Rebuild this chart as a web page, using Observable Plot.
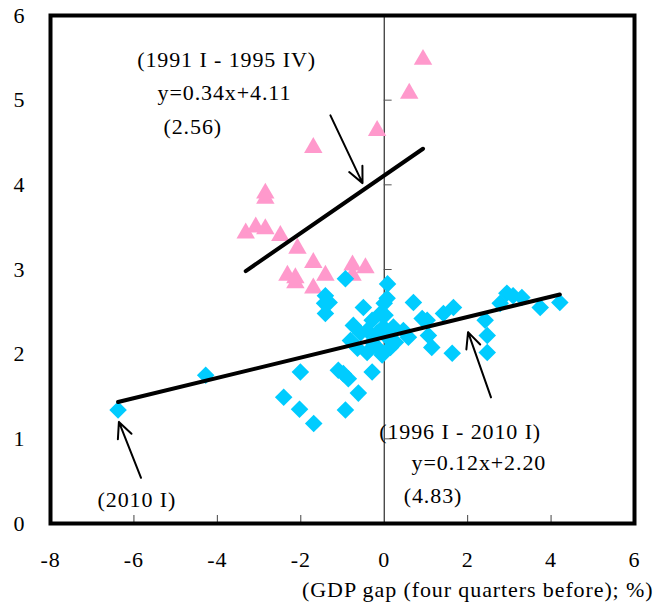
<!DOCTYPE html>
<html>
<head>
<meta charset="utf-8">
<script src="https://cdn.jsdelivr.net/npm/d3@7"></script>
<script src="https://cdn.jsdelivr.net/npm/@observablehq/plot@0.6"></script>
<style>
  html, body { margin: 0; padding: 0; background: #fff; }
  #chart { width: 668px; height: 604px; }
  #chart svg text { letter-spacing: 0.9px; }
</style>
</head>
<body>
<div id="chart"></div>
<script>
// 1991 I - 1995 IV (pink triangles): GDP gap (four quarters before), y value
const earlyX = [0.93, 0.60, -0.17, -1.70, -2.85, -2.85, -3.32, -3.08, -2.85, -2.49, -2.08, -1.70, -2.32, -2.13, -2.13, -1.70, -1.41, -0.76, -0.45, -0.76];
const earlyY = [5.48, 5.08, 4.64, 4.44, 3.90, 3.84, 3.43, 3.50, 3.48, 3.40, 3.25, 3.08, 2.93, 2.90, 2.84, 2.78, 2.93, 3.05, 3.02, 2.93];

// 1996 I - 2010 I (cyan diamonds)
const lateX = [-6.38, -4.28, -2.41, -2.01, -2.03, -1.69, -1.10, -0.98, -0.86, -0.93, -0.62, -0.29,
  -0.93, -1.41, -1.32, -1.43, -1.41, 0.08, -0.50, -0.74, 0.00, -0.09, -0.29, -0.41, -0.57, -0.81,
  -0.64, -0.41, -0.17, -0.05, 0.15, 0.07, -0.17, 0.22, 0.46, 0.58, 0.27, -0.02, -0.29, 0.70, 1.03,
  1.06, 1.14, 1.42, 1.66, 1.63, 2.42, 2.47, 2.47, 2.78, 2.94, 3.09, 3.30, 3.74, 4.21, 0.91, 0.07, 0.02];
const lateY = [1.34, 1.75, 1.49, 1.79, 1.35, 1.18, 1.81, 1.77, 1.71, 1.34, 1.54, 1.79,
  2.89, 2.69, 2.61, 2.60, 2.48, 2.83, 2.55, 2.34, 2.60, 2.48, 2.40, 2.28, 2.25, 2.16,
  2.07, 2.02, 2.08, 1.99, 2.08, 2.20, 2.25, 2.32, 2.28, 2.20, 2.14, 2.32, 2.14, 2.61, 2.40,
  2.22, 2.08, 2.48, 2.55, 2.01, 2.40, 2.22, 2.02, 2.60, 2.72, 2.69, 2.67, 2.55, 2.61, 2.42, 2.66, 2.46];

// Regression lines (as printed): slope, intercept
const earlySlope = 0.34, earlyIntercept = 4.11;
const lateSlope = 0.12, lateIntercept = 2.20;

// Axis ticks
const xTicks = [-8, -6, -4, -2, 0, 2, 4, 6];
const yTicks = [0, 1, 2, 3, 4, 5, 6];
const xInnerTicks = [-6, -4, -2, 2, 4];
const yInnerTicks = [1, 2, 3, 4, 5];

// Annotations
const noteText = ["(1991 I - 1995 IV)", "y=0.34x+4.11", "(2.56)", "(1996 I - 2010 I)", "y=0.12x+2.20", "(4.83)", "(2010 I)"];
const noteX = [-3.78, -3.83, -4.59, 1.82, 2.27, 1.17, -5.93];
const noteY = [5.48, 5.09, 4.68, 1.08, 0.71, 0.33, 0.28];

// Arrows (tail -> head)
const arrowX1 = [-1.29, 2.56, -5.83];
const arrowY1 = [4.82, 1.49, 0.54];
const arrowX2 = [-0.52, 2.01, -6.36];
const arrowY2 = [4.02, 2.26, 1.20];

const xLabel = "(GDP gap (four quarters before); %)";

// Build tables
const early = earlyX.map((x, i) => ({x, y: earlyY[i]}));
const late = lateX.map((x, i) => ({x, y: lateY[i]}));
const fitLine = (xs, a, b) => [d3.min(xs), d3.max(xs)].map(x => ({x, y: a * x + b}));
const earlyFit = fitLine(earlyX, earlySlope, earlyIntercept);
const lateFit = fitLine(lateX, lateSlope, lateIntercept);
const notes = noteText.map((t, i) => ({t, x: noteX[i], y: noteY[i]}));
const arrows = arrowX1.map((x1, i) => ({x1, y1: arrowY1[i], x2: arrowX2[i], y2: arrowY2[i]}));

const font = "'Liberation Serif', 'Times New Roman', serif";

const chart = Plot.plot({
  width: 668,
  height: 604,
  marginLeft: 50,
  marginRight: 34,
  marginTop: 15,
  marginBottom: 81,
  x: {domain: [-8, 6]},
  y: {domain: [0, 6]},
  style: {fontFamily: font, fontSize: "22px", background: "white", color: "black"},
  marks: [
    Plot.ruleX([0], {stroke: "black", strokeWidth: 1}),
    Plot.ruleY(yInnerTicks, {y: d => d, x1: 0, x2: 0.19, stroke: "#555", strokeWidth: 1}),
    Plot.tickX(xInnerTicks, {x: d => d, insetTop: 500, stroke: "#444", strokeWidth: 1}),
    Plot.dot(early, {x: "x", y: "y", symbol: "triangle2", r: 8.8, fill: "#FF99CC", stroke: "none"}),
    Plot.dot(late, {x: "x", y: "y", symbol: "diamond2", r: 7.9, fill: "#00CCFF", stroke: "none"}),
    Plot.line(earlyFit, {x: "x", y: "y", stroke: "black", strokeWidth: 4}),
    Plot.line(lateFit, {x: "x", y: "y", stroke: "black", strokeWidth: 4}),
    Plot.arrow(arrows, {x1: "x1", y1: "y1", x2: "x2", y2: "y2", stroke: "black", strokeWidth: 2, headLength: 13, headAngle: 50}),
    Plot.text(notes, {x: "x", y: "y", text: "t", fontSize: 22, fill: "black"}),
    Plot.axisX({ticks: xTicks, tickSize: 0, tickPadding: 28, tickFormat: d => String(d), label: null}),
    Plot.axisY({ticks: yTicks, tickSize: 0, tickPadding: 25, tickFormat: d => String(d), label: null}),
    Plot.text([xLabel], {frameAnchor: "bottom-right", text: d => d, textAnchor: "end", dx: 19, dy: 73, fontSize: 22, fill: "black"}),
    Plot.frame({stroke: "black", strokeWidth: 4})
  ]
});
document.getElementById("chart").appendChild(chart);
</script>
</body>
</html>
